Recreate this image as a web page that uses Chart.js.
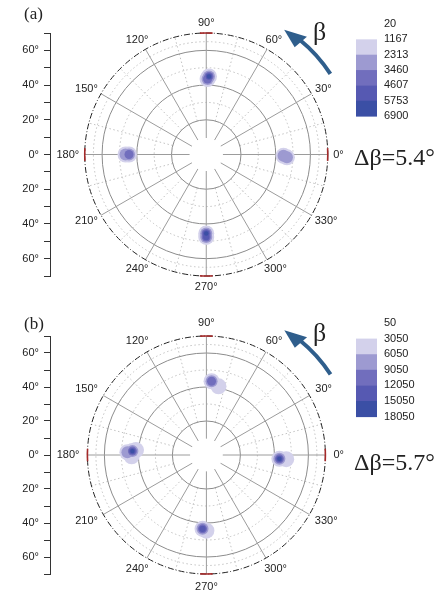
<!DOCTYPE html>
<html>
<head>
<meta charset="utf-8">
<script src="https://cdn.jsdelivr.net/npm/chart.js@4.4.1/dist/chart.umd.min.js"></script>
<style>
body { margin: 0; background: #fff; }
#wrap { position: relative; width: 447px; height: 592px; overflow: hidden; }
canvas { position: absolute; left: 0; }
.lab { position: absolute; font-family: 'Liberation Serif', serif; color: #222; white-space: nowrap; line-height: 1; }
</style>
</head>
<body>
<div id="wrap">
  <canvas id="chartA" width="447" height="296" style="top:0"></canvas>
  <canvas id="chartB" width="447" height="296" style="top:296px"></canvas>
  <div class="lab" style="left:24px;top:5px;font-size:17px">(a)</div>
  <div class="lab" style="left:313px;top:19px;font-size:26px">β</div>
  <div class="lab" style="left:354px;top:145px;font-size:24px">Δβ=5.4°</div>
  <div class="lab" style="left:24px;top:315px;font-size:17px">(b)</div>
  <div class="lab" style="left:313px;top:320px;font-size:26px">β</div>
  <div class="lab" style="left:354px;top:450px;font-size:24px">Δβ=5.7°</div>
</div>
<script>
// pole figure (a): measured spots, beta (deg), tilt (deg), counts
var betaA   = [88, 89, 180, 180, 359, 358, 270, 270];
var tiltA   = [45, 43.5, 44.5, 46.5, 44.5, 46.5, 45.5, 47.5];
var countA  = [6900, 4000, 3460, 2400, 3100, 2400, 6900, 5200];
var levelsA = [20, 1167, 2313, 3460, 4607, 5753, 6900];

// pole figure (b)
var betaB   = [86, 80, 177, 178, 176, 181, 357, 357, 267, 270];
var tiltB   = [43.5, 41, 43.6, 46.5, 41.5, 44, 43, 47, 43.5, 44.5];
var countB  = [9050, 3500, 18050, 9000, 6000, 4000, 15050, 4000, 12050, 4000];
var levelsB = [50, 3050, 6050, 9050, 12050, 15050, 18050];

// axes
var angleTicks  = [0, 30, 60, 90, 120, 150, 180, 210, 240, 270, 300, 330];
var tiltTicks   = [-70, -60, -50, -40, -30, -20, -10, 0, 10, 20, 30, 40, 50, 60, 70];
var ringTilts   = [20, 40, 60];
var dottedTilts = [30, 50, 65];
var holeTilt = 9.5;
var outerTilt = 70;

var bandColors = ['#d3d1eb', '#9d9ad1', '#716ebd', '#5659b2', '#3b4fa5'];
var bandRadius = [8, 6, 4.5, 3.2, 2.2];

function makeDatasets(beta, tilt, count, levels) {
  var sets = [];
  for (var j = 1; j <= bandColors.length; j++) {
    var pts = [];
    for (var i = 0; i < beta.length; i++) {
      if (count[i] >= levels[j]) {
        var t = beta[i] * Math.PI / 180;
        pts.push({ x: tilt[i] * Math.cos(t), y: tilt[i] * Math.sin(t) });
      }
    }
    sets.push({
      data: pts,
      order: 10 - j, // darker levels on top
      pointRadius: bandRadius[j - 1],
      pointBackgroundColor: bandColors[j - 1],
      pointBorderWidth: 0,
      clip: false
    });
  }
  return sets;
}

function polarPlugin(levels, barTop, barStep) {
  return {
    id: 'polar',
    beforeDatasetsDraw: function(chart) {
      var xs = chart.scales.x, ys = chart.scales.y, ctx = chart.ctx;
      var cx = xs.getPixelForValue(0), cy = ys.getPixelForValue(0);
      var kx = xs.getPixelForValue(1) - cx, ky = cy - ys.getPixelForValue(1);
      function pt(r, a) {
        var t = a * Math.PI / 180;
        return [xs.getPixelForValue(r * Math.cos(t)), ys.getPixelForValue(r * Math.sin(t))];
      }
      function ring(r) {
        ctx.beginPath();
        ctx.ellipse(cx, cy, r * kx, r * ky, 0, 0, 2 * Math.PI);
        ctx.stroke();
      }
      function spoke(a, r0, r1) {
        var p = pt(r0, a), q = pt(r1, a);
        ctx.beginPath(); ctx.moveTo(p[0], p[1]); ctx.lineTo(q[0], q[1]); ctx.stroke();
      }
      ctx.save();
      ctx.lineWidth = 1;
      // dotted grid
      ctx.setLineDash([1.5, 2.5]);
      ctx.strokeStyle = '#c2c2c2';
      dottedTilts.forEach(ring);
      angleTicks.forEach(function(a) { spoke(a + 15, 20, outerTilt); });
      // solid grid
      ctx.setLineDash([]);
      ctx.strokeStyle = '#8c8c8c';
      ringTilts.forEach(ring);
      ctx.strokeStyle = '#9c9c9c';
      angleTicks.forEach(function(a) { spoke(a, holeTilt, outerTilt); });
      // outer boundary, dash-dot
      ctx.setLineDash([6, 2, 1, 2]);
      ctx.strokeStyle = '#222';
      ring(outerTilt);
      ctx.setLineDash([]);
      ctx.strokeStyle = '#a52a2a';
      ctx.lineWidth = 1.6;
      [0, 90, 180, 270].forEach(function(a) {
        ctx.beginPath();
        ctx.ellipse(cx, cy, outerTilt * kx, outerTilt * ky, 0, -(a + 3) * Math.PI / 180, -(a - 3) * Math.PI / 180);
        ctx.stroke();
      });
      // white hole in the middle
      ctx.fillStyle = '#fff';
      ctx.beginPath();
      ctx.ellipse(cx, cy, holeTilt * kx, holeTilt * ky, 0, 0, 2 * Math.PI);
      ctx.fill();
      ctx.restore();
    },
    afterDraw: function(chart) {
      var xs = chart.scales.x, ys = chart.scales.y, ctx = chart.ctx;
      var cx = xs.getPixelForValue(0), cy = ys.getPixelForValue(0);
      ctx.save();
      // angle labels
      ctx.font = "11px 'Liberation Sans', Arial, sans-serif";
      ctx.fillStyle = '#222';
      ctx.textAlign = 'center';
      ctx.textBaseline = 'middle';
      angleTicks.forEach(function(a) {
        var t = a * Math.PI / 180, s = a + '°';
        var w = ctx.measureText(s).width;
        var R = 126;
        var x = cx + R * Math.cos(t) + (w / 2 + 1) * Math.cos(t);
        var y = cy - R * Math.sin(t) - 6 * Math.sin(t);
        ctx.fillText(s, x, y);
      });
      // rotation arrow
      var rr = 148;
      ctx.strokeStyle = '#2f5e8c';
      ctx.fillStyle = '#2f5e8c';
      ctx.lineWidth = 4;
      ctx.beginPath();
      ctx.arc(cx, cy, rr, -33 * Math.PI / 180, -51 * Math.PI / 180, true);
      ctx.stroke();
      function ap(r, a) { var t = a * Math.PI / 180; return [cx + r * Math.cos(t), cy - r * Math.sin(t)]; }
      var tip = ap(rr - 1, 58), b1 = ap(rr + 7, 49.5), b2 = ap(rr - 9, 50.5);
      ctx.beginPath();
      ctx.moveTo(tip[0], tip[1]); ctx.lineTo(b1[0], b1[1]); ctx.lineTo(b2[0], b2[1]);
      ctx.closePath(); ctx.fill();
      // colour bar: band j spans level j .. level j+1
      for (var j = 1; j < levels.length - 1; j++) {
        ctx.fillStyle = bandColors[j - 1];
        ctx.fillRect(356, barTop + j * barStep, 21, barStep + 0.5);
      }
      ctx.font = "11px 'Liberation Sans Narrow', 'Liberation Sans', Arial, sans-serif";
      ctx.textAlign = 'left';
      ctx.fillStyle = '#222';
      levels.forEach(function(v, i) {
        ctx.fillText(String(v), 384, barTop + i * barStep);
      });
      ctx.restore();
    }
  };
}

function makeChart(id, beta, tilt, count, levels, pad, xRange, barTop, barStep) {
  var ctx = document.getElementById(id).getContext('2d');
  return new Chart(ctx, {
    type: 'scatter',
    data: { datasets: makeDatasets(beta, tilt, count, levels) },
    options: {
      responsive: false,
      animation: false,
      devicePixelRatio: 1,
      layout: { padding: pad },
      plugins: { legend: { display: false }, tooltip: { enabled: false } },
      scales: {
        x: { type: 'linear', display: false, min: xRange[0], max: xRange[1] },
        y: {
          type: 'linear', position: 'left', min: -70, max: 70,
          afterFit: function(s) { s.width = 50; },
          afterBuildTicks: function(s) { s.ticks = tiltTicks.map(function(v) { return { value: v }; }); },
          ticks: {
            autoSkip: false,
            padding: 5,
            color: '#222',
            font: { family: 'Liberation Sans', size: 11 },
            callback: function(v) { return (v % 20 === 0) ? Math.abs(v) + '°' : ''; }
          },
          grid: { drawOnChartArea: false, tickLength: 6, color: '#333' },
          border: { color: '#333', width: 1 }
        }
      }
    },
    plugins: [polarPlugin(levels, barTop, barStep)]
  });
}

makeChart('chartA', betaA, tiltA, countA, levelsA,
  { left: 0, right: 84.5, top: 33, bottom: 20 }, [-90, 90], 24, 15.35);
makeChart('chartB', betaB, tiltB, countB, levelsB,
  { left: 0, right: 91, top: 40, bottom: 18 }, [-92, 88], 27, 15.6);
</script>
</body>
</html>
